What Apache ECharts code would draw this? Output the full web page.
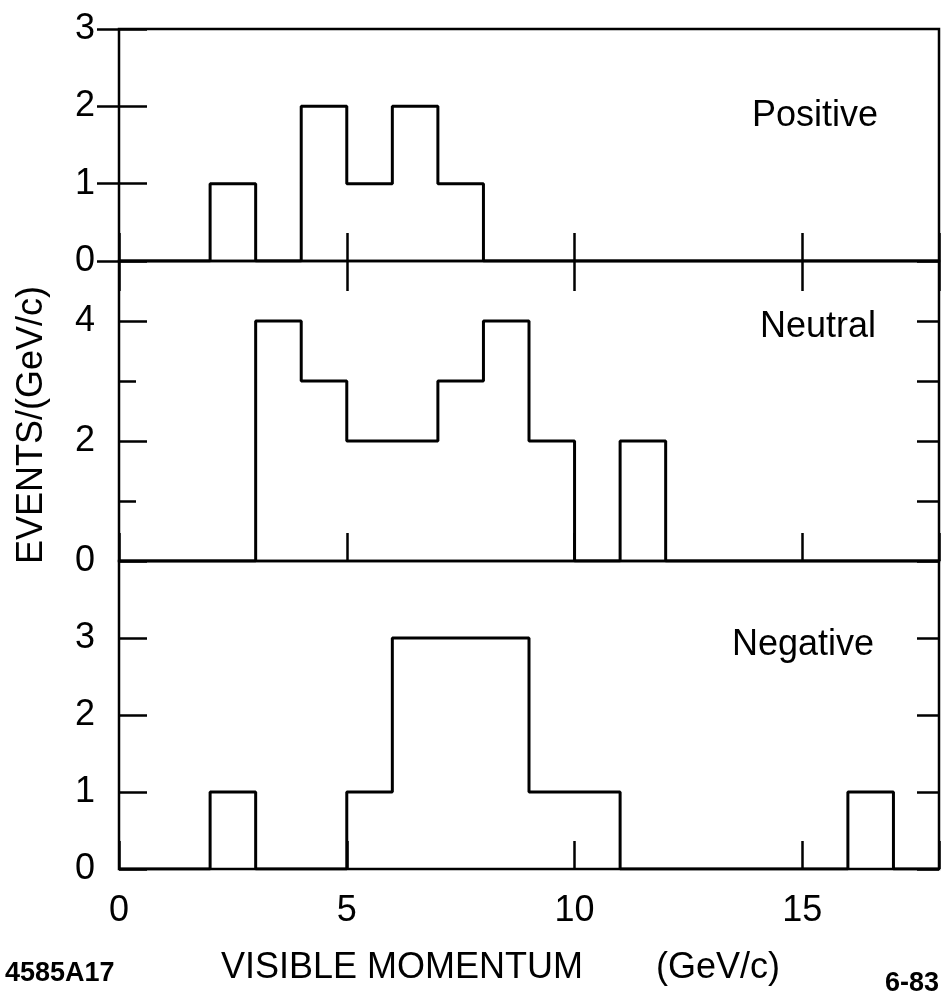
<!DOCTYPE html>
<html><head><meta charset="utf-8">
<script src="https://cdn.jsdelivr.net/npm/echarts@6/dist/echarts.min.js"></script>
<style>html,body{margin:0;padding:0;background:#fff}#c{width:943px;height:1000px}</style>
</head><body><div id="c"></div>
<script>
// Histogram bins: 1 GeV/c wide, from 0 to 18 GeV/c
const binStarts = [0,1,2,3,4,5,6,7,8,9,10,11,12,13,14,15,16,17];
const positive  = [0,0,1,0,2,1,2,1,0,0,0,0,0,0,0,0,0,0];
const neutral   = [0,0,0,4,3,2,2,3,4,2,0,2,0,0,0,0,0,0];
const negative  = [0,0,1,0,0,1,3,3,3,1,1,0,0,0,0,0,1,0];
const panelNames = ['Positive', 'Neutral', 'Negative'];
const xTickLabels = [0, 5, 10, 15];
const yMax = [3, 5, 4];
const yLabelStep = [1, 2, 1];

const FONT = 'Liberation Sans';
const grids = [
  {left: 119, right: 4, top: 29, height: 232},
  {left: 119, right: 4, top: 261, height: 300},
  {left: 119, right: 4, top: 561, height: 308}
];

function stepPoints(vals) {
  const pts = binStarts.map((x, i) => [x, vals[i]]);
  pts.push([binStarts[binStarts.length - 1] + 1, 0]);
  return pts;
}

const tickStyle = {color: '#000', width: 2.5};
const xAxes = [], yAxes = [], series = [];
const all = [positive, neutral, negative];

grids.forEach((g, i) => {
  g.show = true; g.borderColor = '#000'; g.borderWidth = 2.5; g.backgroundColor = 'transparent';
  xAxes.push({
    gridIndex: i, type: 'value', min: 0, max: 18, interval: 5, position: 'bottom',
    axisLine: {show: false}, splitLine: {show: false},
    axisTick: {inside: true, length: 28, lineStyle: tickStyle},
    axisLabel: i === 2 ? {
      show: true, color: '#000', fontFamily: FONT, fontSize: 36, margin: 24,
      formatter: v => (xTickLabels.indexOf(v) >= 0 ? String(v) : '')
    } : {show: false}
  });
  yAxes.push({
    gridIndex: i, type: 'value', min: 0, max: yMax[i], interval: yLabelStep[i], position: 'left',
    axisLine: {show: false}, splitLine: {show: false},
    axisTick: {inside: true, length: 28, lineStyle: tickStyle},
    axisLabel: {
      color: '#000', fontFamily: FONT, fontSize: 36, margin: 24,
      formatter: v => (v === yMax[i] && i > 0 ? '' : String(v))
    }
  });
  yAxes.push({
    gridIndex: i, type: 'value', min: 0, max: yMax[i], interval: 1, position: 'right',
    axisLine: {show: false}, splitLine: {show: false},
    axisTick: {inside: true, length: 22, lineStyle: tickStyle},
    axisLabel: {show: false}
  });
});
xAxes.push({
  gridIndex: 0, type: 'value', min: 0, max: 18, interval: 5, position: 'top',
  axisLine: {show: false}, splitLine: {show: false},
  axisTick: {inside: true, length: 30, lineStyle: tickStyle},
  axisLabel: {show: false}
});
yAxes.push({
  gridIndex: 1, type: 'value', min: 0, max: 5, interval: 1, position: 'left',
  axisLine: {show: false}, splitLine: {show: false},
  axisTick: {inside: true, length: 17, lineStyle: tickStyle},
  axisLabel: {show: false}
});

all.forEach((vals, i) => {
  series.push({
    type: 'line', xAxisIndex: i, yAxisIndex: i * 2, step: 'end',
    data: stepPoints(vals), symbol: 'none', silent: true,
    lineStyle: {color: '#000', width: 3}, z: 5
  });
});

const txt = (t, x, y, size, align, extra) => Object.assign({
  type: 'text', x: x, y: y,
  style: {text: t, fill: '#000', font: size + 'px "' + FONT + '"', textAlign: align, textVerticalAlign: 'middle'}
}, extra || {});

const graphics = [
  txt(panelNames[0], 878, 116, 36, 'right'),
  txt(panelNames[1], 876, 327, 36, 'right'),
  txt(panelNames[2], 874, 645, 36, 'right'),
  txt('EVENTS/(GeV/c)', 32, 425, 36, 'center', {rotation: Math.PI / 2}),
  txt('VISIBLE MOMENTUM', 221, 968, 36, 'left'),
  txt('(GeV/c)', 656, 968, 36, 'left'),
  {type: 'text', x: 5, y: 974, style: {text: '4585A17', fill: '#000', font: 'bold 27px "' + FONT + '"', textAlign: 'left', textVerticalAlign: 'middle'}},
  {type: 'text', x: 939, y: 984, style: {text: '6-83', fill: '#000', font: 'bold 27px "' + FONT + '"', textAlign: 'right', textVerticalAlign: 'middle'}}
];

const chart = echarts.init(document.getElementById('c'), null, {renderer: 'canvas'});
chart.setOption({
  animation: false,
  backgroundColor: '#fff',
  grid: grids,
  xAxis: xAxes,
  yAxis: yAxes,
  series: series,
  graphic: graphics
});
</script></body></html>
